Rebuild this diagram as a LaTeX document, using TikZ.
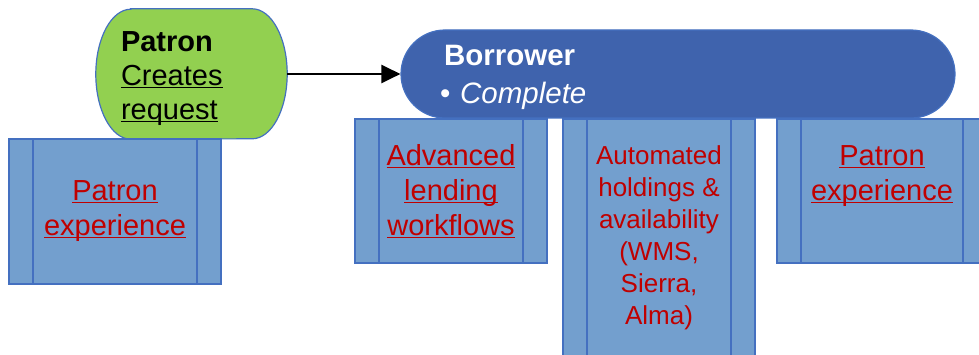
\documentclass[tikz,border=0pt]{standalone}
\usepackage{fontspec}
\setmainfont{Liberation Sans}
\usetikzlibrary{arrows.meta, positioning, backgrounds}
\definecolor{pillblue}{HTML}{3F63AD}
\definecolor{pillgreen}{HTML}{92D050}
\definecolor{boxfill}{HTML}{739FCE}
\definecolor{boxline}{HTML}{4470C0}
\definecolor{linkred}{HTML}{C00000}
\newcommand{\ulink}[1]{\underline{\smash{#1}}\vphantom{#1}}
\tikzstyle{procbox} = [rectangle, draw=boxline, line width=1.2pt, fill=boxfill, text=linkred, align=center,
  font=\fontsize{29}{35}\selectfont,
  path picture={\draw[boxline, line width=1.2pt]
    ([xshift=24pt]path picture bounding box.north west) -- ([xshift=24pt]path picture bounding box.south west)
    ([xshift=-24pt]path picture bounding box.north east) -- ([xshift=-24pt]path picture bounding box.south east);}]
\tikzstyle{pill} = [rectangle, inner xsep=0pt, align=left, font=\fontsize{29}{34}\selectfont]
\tikzstyle{arrow} = [line width=2.8pt, -{Triangle[length=19pt, width=18pt]}]

\begin{document}
\begin{tikzpicture}[x=1pt, y=-1pt]
	\useasboundingbox (0,0) rectangle (979,355);
	\clip (0,0) rectangle (979,355);

	% Patron
	\node (patron) [pill, minimum width=191pt, minimum height=130pt, text width=141pt] at (191.5,74)
		{\rule{0pt}{30pt}\textbf{Patron}\\\ulink{Creates}\\\ulink{request}};
	\begin{scope}[on background layer]
		\path[fill=pillgreen, draw=boxline, line width=1.2pt]
			([xshift=35pt]patron.north west) -- ([xshift=-35pt]patron.north east)
			arc[start angle=90, end angle=-90, x radius=35pt, y radius=65pt]
			-- ([xshift=35pt]patron.south west)
			arc[start angle=270, end angle=90, x radius=35pt, y radius=65pt] -- cycle;
	\end{scope}
	\node (leftexp) [procbox, minimum width=212pt, minimum height=145pt] at (115,211.5)
		{\ulink{Patron}\\\ulink{experience}};

	% Borrower
	\node (borrower) [pill, draw=boxline, line width=1.2pt, fill=pillblue, text=white, rounded corners=44pt,
		minimum width=554pt, minimum height=88pt, text width=476pt, font=\fontsize{29.5}{34}\selectfont] at (678,74)
		{\rule{0pt}{28pt}\hspace*{4pt}\textbf{Borrower}\\[4pt]\textbullet\ \textit{Complete}};
	\node (lending) [procbox, minimum width=192pt, minimum height=144pt] at (451,191)
		{\ulink{Advanced}\\\ulink{lending}\\\ulink{workflows}};
	\node (holdings) [procbox, minimum width=192pt, minimum height=238pt, font=\fontsize{26}{32}\selectfont] at (659,238)
		{Automated\\holdings \&\\availability\\(WMS,\\Sierra,\\Alma)};
	\node (rightexp) [procbox, minimum width=210pt, minimum height=144pt] at (882,191)
		{\ulink{Patron}\\\ulink{experience}\\\mbox{}};

	% Link
	\draw [arrow] (patron.east) -- (borrower.west);

\end{tikzpicture}
\end{document}
